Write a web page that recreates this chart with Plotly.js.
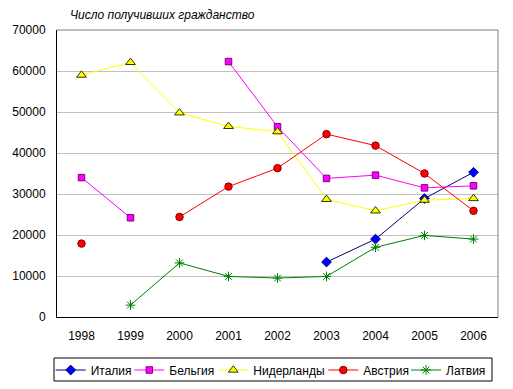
<!DOCTYPE html>
<html><head><meta charset="utf-8">
<script src="https://cdn.plot.ly/plotly-3.0.1.min.js"></script>
<style>html,body{margin:0;padding:0;background:#fff;}#chart{width:513px;height:389px;}</style>
</head><body><div id="chart"></div>
<script>
const years = ['1998','1999','2000','2001','2002','2003','2004','2005','2006'];
const italy       = [null, null, null, null, null, 13400, 19000, 28900, 35300];
const belgium     = [34000, 24200, null, 62300, 46400, 33800, 34600, 31500, 32000];
const netherlands = [59000, 62100, 49800, 46500, 45200, 28700, 25900, 28500, 28900];
const austria     = [17900, null, 24400, 31800, 36300, 44600, 41800, 35000, 25900];
const latvia      = [null, 2900, 13200, 9900, 9500, 9900, 17000, 19900, 19000];
const yTicks = [0,10000,20000,30000,40000,50000,60000,70000];

function tr(name, y, lineColor, sym, fill, edge, size, leg){
  return {x: years, y: y, name: name, type: 'scatter', mode: 'lines+markers',
    connectgaps: false, legend: leg,
    line: {color: lineColor, width: 1},
    marker: {symbol: sym, color: fill, size: size, line: {color: edge, width: 1}}};
}
const data = [
  tr('Италия', italy, '#000080', 'diamond', '#0000FF', '#000080', 7.5, 'legend'),
  tr('Бельгия', belgium, '#FF00FF', 'square', '#FF00FF', '#800080', 6.5, 'legend2'),
  tr('Нидерланды', netherlands, '#FFFF00', 'triangle-up', '#FFFF00', '#333300', 8.5, 'legend3'),
  tr('Австрия', austria, '#FF0000', 'circle', '#FF0000', '#800000', 7.5, 'legend4'),
  tr('Латвия', latvia, '#008000', 'asterisk-open', '#008000', '#008000', 8, 'legend5')
];
function leg(px){
  return {orientation: 'h', xref: 'container', yref: 'container', x: px/513, xanchor: 'left',
    y: 1 - 370/389, yanchor: 'middle', borderwidth: 0, bgcolor: 'rgba(0,0,0,0)',
    font: {size: 12}, itemwidth: 30};
}
const layout = {
  width: 513, height: 389,
  margin: {l: 57, r: 15, t: 30, b: 72, autoexpand: false},
  paper_bgcolor: '#fff', plot_bgcolor: '#fff',
  font: {family: 'Liberation Sans, Arial, sans-serif', size: 12, color: '#000'},
  title: {text: '<i>Число получивших гражданство</i>', x: 70/513, xref: 'container', xanchor: 'left',
    y: 1 - 15/389, yref: 'container', yanchor: 'middle', font: {size: 12, color: '#000'}},
  xaxis: {type: 'category', range: [-0.5, 8.5], showgrid: false, zeroline: false,
    showline: true, linecolor: '#000', linewidth: 1, mirror: false, ticks: '',
    ticklabelstandoff: 8, fixedrange: true},
  yaxis: {range: [0, 70000], tickvals: yTicks, ticktext: yTicks.map(String),
    showgrid: true, gridcolor: '#C0C0C0', gridwidth: 1, zeroline: false,
    showline: true, linecolor: '#000', linewidth: 1, ticks: '', ticklabelstandoff: 8, fixedrange: true},
  shapes: [
    {type: 'line', xref: 'paper', yref: 'paper', x0: 0, x1: 1, y0: 1, y1: 1, line: {color: '#808080', width: 1}},
    {type: 'line', xref: 'paper', yref: 'paper', x0: 1, x1: 1, y0: 0, y1: 1, line: {color: '#808080', width: 1}},
    {type: 'rect', xref: 'paper', yref: 'paper', x0: (54-57)/441, x1: (492-57)/441,
      y0: (317-358)/287, y1: (317-381)/287, line: {color: '#000', width: 1}, fillcolor: 'rgba(0,0,0,0)'}
  ],
  showlegend: true,
  legend: leg(50.7), legend2: leg(129.3), legend3: leg(213.3), legend4: leg(323.3), legend5: leg(406)
};
Plotly.newPlot('chart', data, layout, {displayModeBar: false, staticPlot: true});
</script></body></html>
